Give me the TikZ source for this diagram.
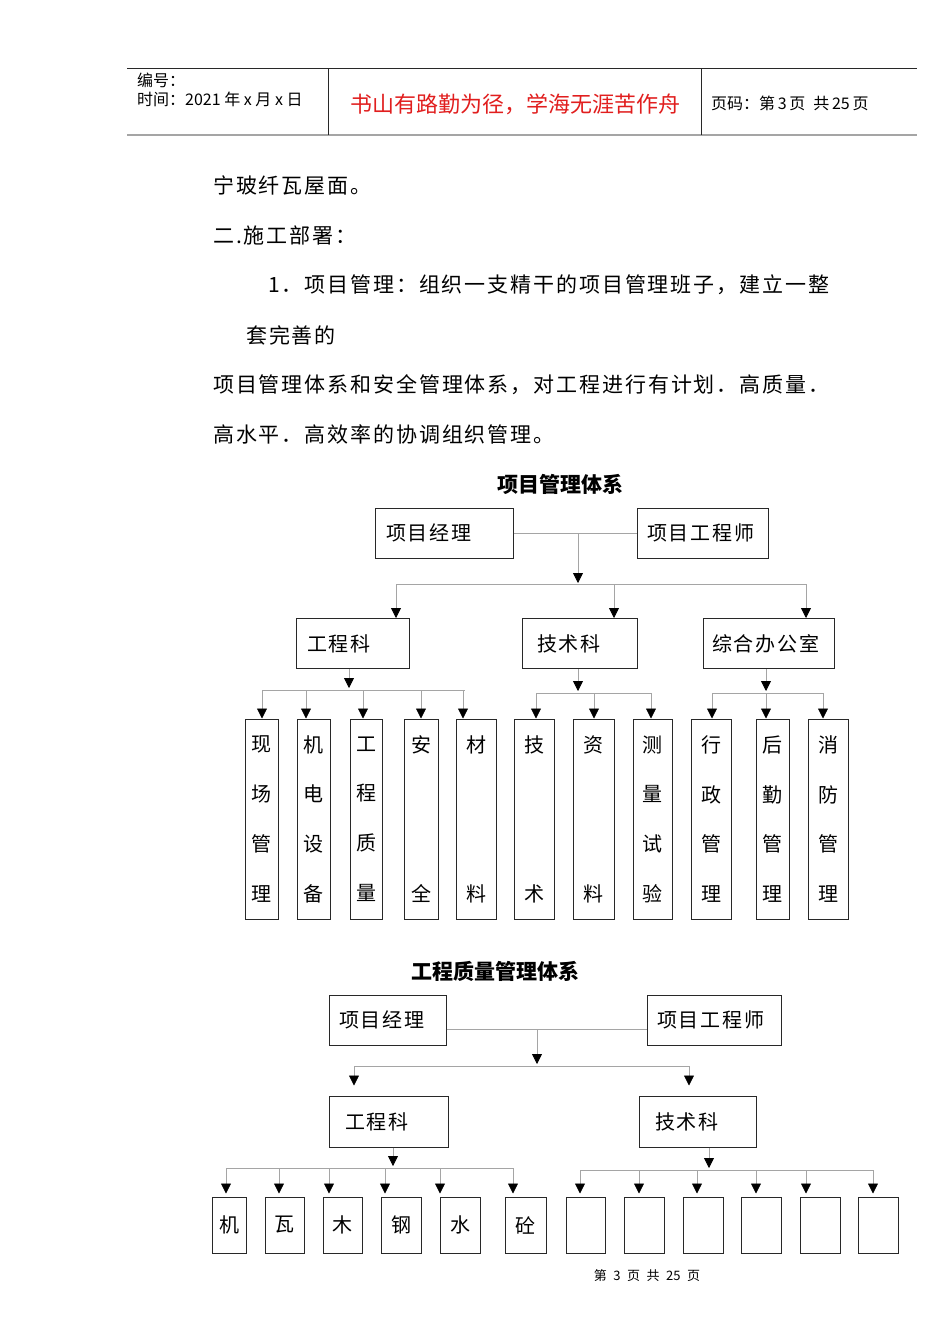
\documentclass[tikz,border=0pt]{standalone}
\usepackage{fontspec}
\setmainfont{Noto Sans CJK SC}
\newfontfamily\bodyfont{Noto Sans CJK SC}[LetterSpace=9]
\usetikzlibrary{arrows.meta,positioning}
\definecolor{docDark}{RGB}{40,40,40}
\definecolor{docGrey}{RGB}{165,165,165}
\definecolor{mottoRed}{RGB}{225,30,30}

\begin{document}
\begin{tikzpicture}[x=1pt, y=-1pt,
    txt/.style={anchor=west, inner sep=0pt, font=\bodyfont\fontsize{21}{24}\selectfont},
    ttl/.style={inner sep=0pt, font=\bfseries\fontsize{21}{24}\selectfont},
    box/.style={draw=docDark, line width=1pt, inner sep=0pt, font=\bodyfont\fontsize{20}{24}\selectfont},
    head/.style 2 args={box, minimum height=50pt, text width=#1, inner xsep=#2, align=left},
    col/.style={box, minimum width=#1, minimum height=200pt, align=center,
                font=\bodyfont\fontsize{20}{49.7}\selectfont},
    cell/.style={box, minimum width=#1, minimum height=56pt},
    link/.style={draw=docGrey, line width=0.8pt},
    arr/.style={link, -{Triangle[width=10pt, length=10pt, color=black]}}
  ]
  \fill[white] (0,0) rectangle (950,1344);
  \useasboundingbox (0,0) rectangle (950,1344);

  % page header
  \draw[docDark, line width=0.8pt] (127,68) -- (917,68);
  \draw[docGrey, line width=2pt] (127,135) -- (917,135);
  \draw[docDark, line width=0.8pt] (328,68) -- (328,135) (701,68) -- (701,135);
  \node[anchor=west, inner sep=0pt, align=left, font=\fontsize{16}{19}\selectfont] (hdl) at (137,90)
    {编号：\\时间：2021 年 x 月 x 日};
  \node[inner sep=0pt, text=mottoRed, font=\fontsize{22}{24}\selectfont] (motto) at (515,104)
    {书山有路勤为径，学海无涯苦作舟};
  \node[anchor=west, inner sep=0pt, font=\fontsize{16}{18}\selectfont] (pg) at (711,103)
    {页码：第\,3\,页\enspace 共\,25\,页};

  % body text
  \node[txt] (l1) at (213,185) {宁玻纤瓦屋面。};
  \node[txt] (l2) at (213,235) {二.施工部署：};
  \node[txt] (l3) at (268,285) {1．项目管理：组织一支精干的项目管理班子，建立一整};
  \node[txt] (l4) at (246,335) {套完善的};
  \node[txt] (l5) at (213,385) {项目管理体系和安全管理体系，对工程进行有计划．高质量．};
  \node[txt] (l6) at (213,434) {高水平．高效率的协调组织管理。};

  % chart 1: top
  \node[ttl] (t1) at (560,484) {项目管理体系};
  \node[head={116pt}{11pt}] (pm) at (444,533) {项目经理};
  \node[head={111pt}{10pt}] (pe) at (702.5,533) {项目工程师};
  \coordinate (j1) at (578,533);
  \coordinate (b1) at (578,583);
  \draw[link] (pm) -- (pe);
  \draw[arr] (j1) -- (b1);
  \draw[link] (396,584) -- (806,584);

  % chart 1: departments
  \node[head={91pt}{11pt}] (gk) at (352.5,643.5) {工程科};
  \node[head={85pt}{15pt}] (jk) at (579.5,643.5) {技术科};
  \node[head={113pt}{9pt}] (zb) at (768.5,643.5) {综合办公室};
  \draw[arr] (396,584) -- (396,0 |- gk.north); \draw[arr] (614,584) -- (614,0 |- jk.north);
  \draw[arr] (806,584) -- (806,0 |- zb.north);

  % chart 1: sections
  \node[col=33pt] (xc) at (261.5,819) {现\\场\\管\\理};
  \node[col=33pt] (jd) at (313.5,819) {机\\电\\设\\备};
  \node[col=32pt] (gz) at (366,819) {工\\程\\质\\量};
  \node[col=34pt] (aq) at (421,819) {安\\[99.4pt]全};
  \node[col=40pt] (cl) at (476,819) {材\\[99.4pt]料};
  \node[col=40pt] (js) at (534,819) {技\\[99.4pt]术};
  \node[col=41pt] (zl) at (593.5,819) {资\\[99.4pt]料};
  \node[col=39pt] (cs) at (652.5,819) {测\\量\\试\\验};
  \node[col=40pt] (xz) at (711,819) {行\\政\\管\\理};
  \node[col=33pt] (hq) at (772.5,819) {后\\勤\\管\\理};
  \node[col=40pt] (xf) at (828,819) {消\\防\\管\\理};

  \draw[arr] (gk.south -| 349,0) -- (349,688);
  \draw[link] (262,690) -- (465,690);
  \draw[arr] (262,690) -- (262,0 |- xc.north); \draw[arr] (306,690) -- (306,0 |- jd.north);
  \draw[arr] (363,690) -- (363,0 |- gz.north); \draw[arr] (421,690) -- (421,0 |- aq.north);
  \draw[arr] (463,690) -- (463,0 |- cl.north);

  \draw[arr] (jk.south -| 578,0) -- (578,691);
  \draw[link] (536,693) -- (651,693);
  \draw[arr] (536,693) -- (536,0 |- js.north); \draw[arr] (594,693) -- (594,0 |- zl.north);
  \draw[arr] (651,693) -- (651,0 |- cs.north);

  \draw[arr] (zb.south -| 766,0) -- (766,691);
  \draw[link] (712,693) -- (823,693);
  \draw[arr] (712,693) -- (712,0 |- xz.north); \draw[arr] (766,693) -- (766,0 |- hq.north);
  \draw[arr] (823,693) -- (823,0 |- xf.north);

  % chart 2: top
  \node[ttl] (t2) at (495,971) {工程质量管理体系};
  \node[head={97pt}{10pt}] (pm2) at (387.5,1020) {项目经理};
  \node[head={114pt}{10pt}] (pe2) at (714,1020) {项目工程师};
  \coordinate (j2) at (537,1029);
  \coordinate (b2) at (537,1064);
  \draw[link] ([yshift=-9pt]pm2.east) -- ([yshift=-9pt]pe2.west);
  \draw[arr] (j2) -- (b2);
  \draw[link] (354,1066) -- (689,1066);

  % chart 2: departments
  \node[head={87pt}{16pt}, minimum height=51pt] (gk2) at (388.5,1121.5) {工程科};
  \node[head={85pt}{16pt}, minimum height=51pt] (jk2) at (697.5,1121.5) {技术科};
  \draw[arr, shorten >=10pt] (354,1066) -- (354,0 |- gk2.north);
  \draw[arr, shorten >=10pt] (689,1066) -- (689,0 |- jk2.north);

  % chart 2: teams
  \node[cell=34pt] (c1) at (229,1225) {机};
  \node[cell=39pt] (c2) at (284.5,1225) {瓦};
  \node[cell=39pt] (c3) at (342.5,1225) {木};
  \node[cell=40pt] (c4) at (401,1225) {钢};
  \node[cell=40pt] (c5) at (460,1225) {水};
  \node[cell=41pt] (c6) at (525.5,1225) {砼};
  \node[cell=39pt] (e1) at (585.5,1225) {};
  \node[cell=40pt] (e2) at (644,1225) {};
  \node[cell=40pt] (e3) at (703,1225) {};
  \node[cell=40pt] (e4) at (761,1225) {};
  \node[cell=40pt] (e5) at (820,1225) {};
  \node[cell=40pt] (e6) at (878,1225) {};

  \draw[arr] (gk2.south -| 393,0) -- (393,1166);
  \draw[link] (226,1168) -- (513,1168);
  \draw[arr, shorten >=3pt] (226,1168) -- (226,0 |- c1.north); \draw[arr, shorten >=3pt] (279,1168) -- (279,0 |- c2.north);
  \draw[arr, shorten >=3pt] (329,1168) -- (329,0 |- c3.north); \draw[arr, shorten >=3pt] (385,1168) -- (385,0 |- c4.north);
  \draw[arr, shorten >=3pt] (440,1168) -- (440,0 |- c5.north); \draw[arr, shorten >=3pt] (513,1168) -- (513,0 |- c6.north);

  \draw[arr] (jk2.south -| 709,0) -- (709,1168);
  \draw[link] (580,1170) -- (873,1170);
  \draw[arr, shorten >=3pt] (580,1170) -- (580,0 |- e1.north); \draw[arr, shorten >=3pt] (639,1170) -- (639,0 |- e2.north);
  \draw[arr, shorten >=3pt] (697,1170) -- (697,0 |- e3.north); \draw[arr, shorten >=3pt] (756,1170) -- (756,0 |- e4.north);
  \draw[arr, shorten >=3pt] (806,1170) -- (806,0 |- e5.north); \draw[arr, shorten >=3pt] (873,1170) -- (873,0 |- e6.north);

  % page footer
  \node[inner sep=0pt, font=\fontsize{13}{15}\selectfont] (ft) at (647,1276)
    {第\enspace 3\enspace 页\enspace 共\enspace 25\enspace 页};
\end{tikzpicture}
\end{document}
